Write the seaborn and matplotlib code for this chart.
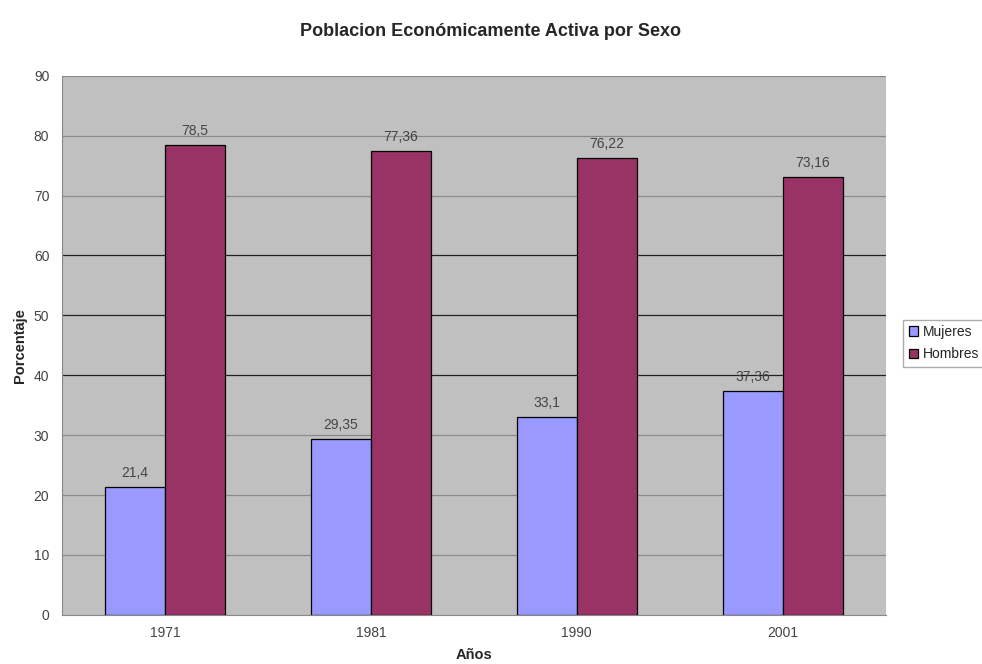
import matplotlib
matplotlib.use("Agg")
import matplotlib.pyplot as plt
import seaborn as sns
import pandas as pd
import numpy as np

years = ["1971", "1981", "1990", "2001"]
mujeres = [21.4, 29.35, 33.1, 37.36]
hombres = [78.5, 77.36, 76.22, 73.16]
mujeres_labels = ["21,4", "29,35", "33,1", "37,36"]
hombres_labels = ["78,5", "77,36", "76,22", "73,16"]
series = ["Mujeres", "Hombres"]
yticks = [0, 10, 20, 30, 40, 50, 60, 70, 80, 90]

df = pd.DataFrame({
    "Año": years * 2,
    "Serie": [series[0]] * 4 + [series[1]] * 4,
    "Valor": mujeres + hombres,
})

sns.set_theme(style="white")
plt.rcParams["font.family"] = ["Liberation Sans", "DejaVu Sans"]

fig = plt.figure(figsize=(9.82, 6.64), dpi=100)
ax = fig.add_axes([0.063, 0.074, 0.839, 0.812])
ax.set_facecolor("#C0C0C0")

sns.barplot(data=df, x="Año", y="Valor", hue="Serie", order=years, hue_order=series,
            palette=["#9999FF", "#993366"], width=0.58, edgecolor="black", linewidth=0.9,
            saturation=1, ax=ax, zorder=3)

ax.set_ylim(0, 90)
ax.set_xlim(-0.5, 3.5)
ax.set_yticks(yticks)
ax.set_yticklabels([str(t) for t in yticks], fontsize=10, color="#444444")
for t in yticks[1:]:
    dark = t in (40, 50, 60)
    ax.axhline(t, color="#222222" if dark else "#8a8a8a", linewidth=0.9, zorder=1)

ax.tick_params(axis="y", length=5, width=0.8, color="#888888", pad=4)
ax.tick_params(axis="x", length=0, labelsize=10, labelcolor="#444444", pad=8)
ax.set_xticks(np.arange(-0.5, 4.0, 1.0), minor=True)
ax.tick_params(axis="x", which="minor", length=4, width=0.8, color="#888888")

for sp in ["top", "right"]:
    ax.spines[sp].set_visible(False)
for sp in ["left", "bottom"]:
    ax.spines[sp].set_color("#888888")
    ax.spines[sp].set_linewidth(0.8)

containers = ax.containers
ax.bar_label(containers[0], labels=mujeres_labels, padding=5, fontsize=10, color="#444444")
ax.bar_label(containers[1], labels=hombres_labels, padding=5, fontsize=10, color="#444444")

ax.set_xlabel("Años", fontsize=10.5, fontweight="bold", labelpad=6)
ax.set_ylabel("Porcentaje", fontsize=10.5, fontweight="bold", labelpad=5)
fig.suptitle("Poblacion Económicamente Activa por Sexo", fontsize=13, fontweight="bold",
             x=0.5, y=0.953, va="center")

handles, labels = ax.get_legend_handles_labels()
fig.legend(handles, labels, loc="center left", bbox_to_anchor=(0.9195, 0.483), fontsize=10,
           frameon=True, edgecolor="#999999", fancybox=False, handlelength=0.7,
           handleheight=0.7, handletextpad=0.3, borderpad=0.4, labelspacing=0.6,
           borderaxespad=0)
ax.get_legend().remove()

fig.savefig("out.png", dpi=100, facecolor="white")
